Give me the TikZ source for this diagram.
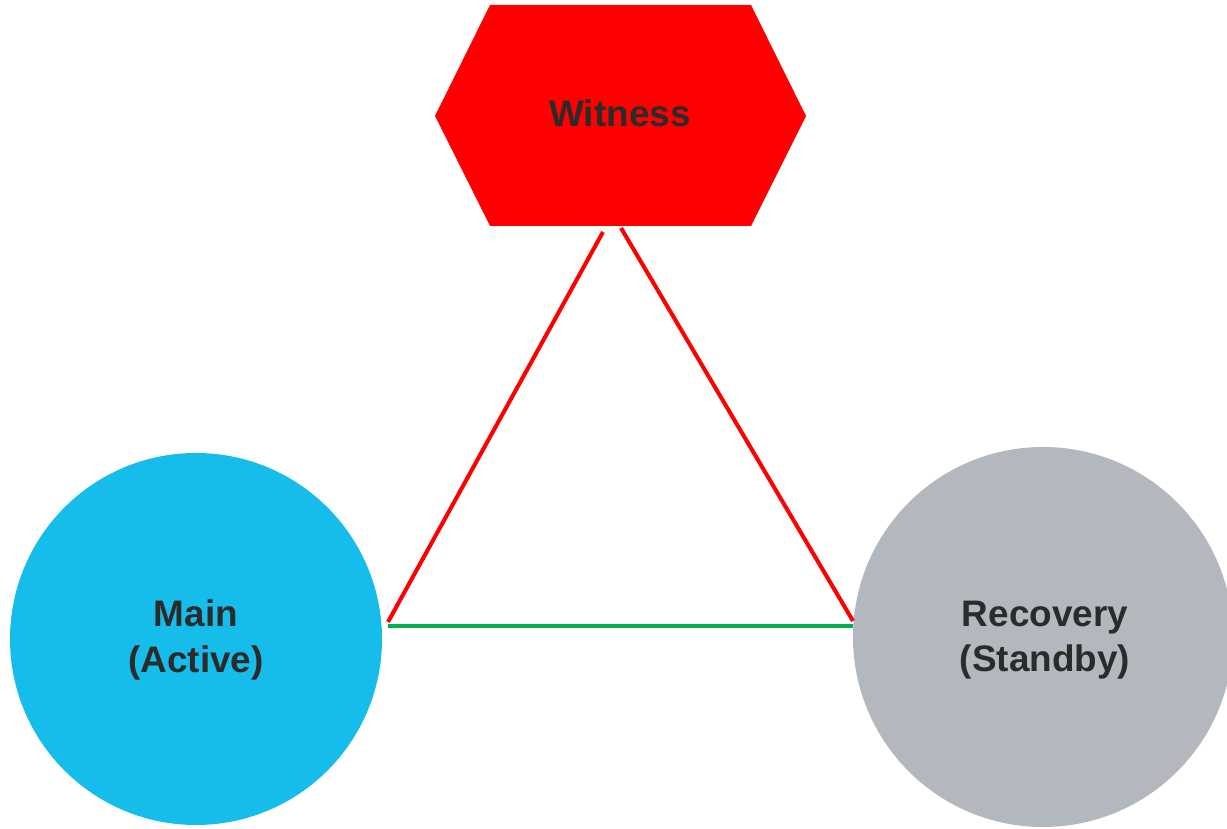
\documentclass[tikz,border=0pt]{standalone}
\usepackage{fontspec}
\usepackage{tikz}
\usetikzlibrary{positioning,calc}
\newfontfamily\labelfont{Liberation Sans}
\definecolor{Ink}{HTML}{2B2B2B}
\definecolor{MainBlue}{HTML}{17BDEA}
\definecolor{StandbyGrey}{HTML}{B3B8BF}
\definecolor{LinkRed}{HTML}{FF0000}
\definecolor{LinkGreen}{HTML}{00B050}
\tikzset{
  sitelabel/.style={font=\labelfont\bfseries\fontsize{21}{26}\selectfont,text=Ink,align=center,inner sep=0pt},
  sitedisc/.style={circle,inner sep=0pt,draw=none},
  link/.style={line width=2.3pt}
}
\begin{document}
\begin{tikzpicture}[x=1cm,y=1cm]
\useasboundingbox (0,0) rectangle (24.54,16.58);
% witness hexagon
\fill[LinkRed] (8.70,14.26) -- (9.80,16.48) -- (15.02,16.48) -- (16.12,14.26) -- (15.02,12.06) -- (9.80,12.06) -- cycle;
\node[sitelabel] (witness) at (12.40,14.32) {Witness};
% sites
\node[sitedisc,fill=MainBlue,minimum size=7.44cm] (maindisc) at (3.92,3.80) {};
\node[sitedisc,fill=StandbyGrey,minimum size=7.60cm] (recdisc) at (20.86,3.84) {};
\node[sitelabel] (main) at (3.92,3.78) {Main\\(Active)};
\node[sitelabel] (recovery) at (20.90,3.78) {Recovery\\(Standby)};
% link ends
\coordinate (wl) at (12.06,11.94);
\coordinate (wr) at (12.42,12.02);
\coordinate (ml) at (7.76,4.14);
\coordinate (rl) at (17.06,4.16);
\coordinate (mg) at (7.76,4.06);
\coordinate (rg) at (17.06,4.06);
\draw[link,LinkRed] (wl) -- (ml);
\draw[link,LinkRed] (wr) -- (rl);
\draw[link,LinkGreen] (mg) -- (rg);
\end{tikzpicture}
\end{document}
